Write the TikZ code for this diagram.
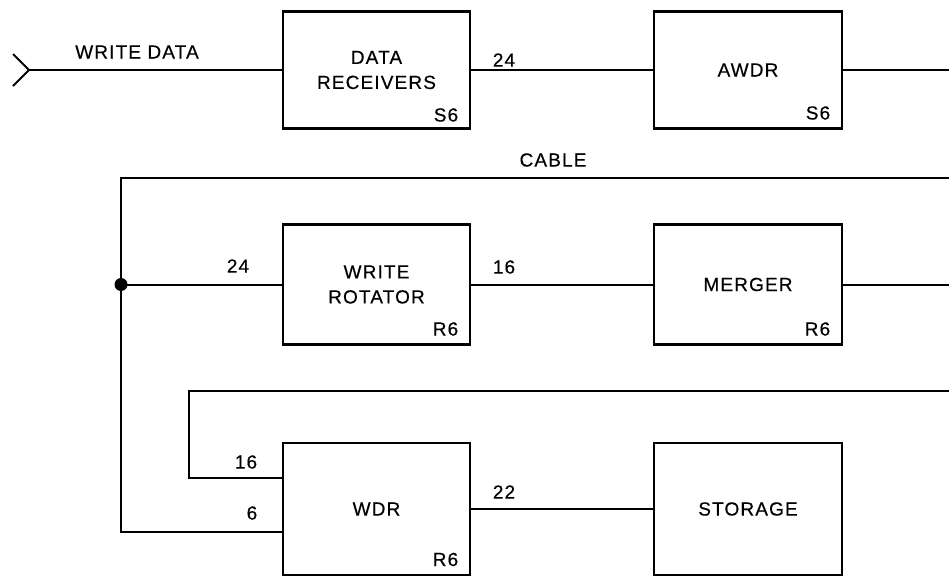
\documentclass[tikz,border=0pt]{standalone}
\usepackage{fontspec}
\setmainfont[LetterSpace=6,FakeBold=0.4]{Liberation Sans}
\begin{document}
\begin{tikzpicture}[x=1pt,y=-1pt,
  blk/.style={draw,line width=2.8pt,minimum width=187pt,inner sep=0pt,align=center,font=\fontsize{19}{25}\selectfont},
  wire/.style={line width=2pt},
  lbl/.style={font=\fontsize{19}{23}\selectfont,inner sep=0pt},
  tag/.style={font=\fontsize{19}{23}\selectfont,inner sep=0pt,anchor=south east}]
\useasboundingbox (0,0) rectangle (949,578);
% boxes
\node[blk,minimum height=117pt] (dr) at (376.5,70) {DATA\\RECEIVERS};
\node[blk,minimum height=117pt,minimum width=188pt] (awdr) at (748,70) {AWDR};
\node[blk,minimum height=120pt] (wr) at (376.5,284.5) {WRITE\\ROTATOR};
\node[blk,minimum height=120pt,minimum width=188pt] (mrg) at (748,284.5) {MERGER};
\node[blk,minimum height=132pt] (wdr) at (376.5,509) {WDR};
\node[blk,minimum height=132pt,minimum width=188pt] (sto) at (748,509) {STORAGE};
% tags
\node[tag] (t1) at ([shift={(-13,-8)}]dr.south east) {S6};
\node[tag] (t2) at ([shift={(-13,-10)}]awdr.south east) {S6};
\node[tag] (t3) at ([shift={(-13,-10)}]wr.south east) {R6};
\node[tag] (t4) at ([shift={(-13,-10)}]mrg.south east) {R6};
\node[tag] (t5) at ([shift={(-13,-10)}]wdr.south east) {R6};
% coordinates
\coordinate (tip) at (29,70);
\coordinate (armA) at (13,54);
\coordinate (armB) at (13,86);
\coordinate (e1) at (949,70);
\coordinate (cabL) at (121,178);
\coordinate (cabR) at (949,178);
\coordinate (jn) at (121,284.5);
\coordinate (e2) at (949,284.5);
\coordinate (fbR) at (949,391);
\coordinate (fbL) at (189,391);
\coordinate (in16) at (283,478);
\coordinate (in6) at (283,532);
% wires
\draw[wire] (armA) -- (tip) -- (armB);
\draw[wire] (tip) -- (dr.west |- tip);
\draw[wire] (dr.east) -- (awdr.west);
\draw[wire] (awdr.east) -- (e1);
\draw[wire] (cabR) -- (cabL) |- (in6);
\draw[wire] (jn) -- (wr.west);
\fill (jn) circle (6.5pt);
\draw[wire] (wr.east) -- (mrg.west);
\draw[wire] (mrg.east) -- (e2);
\draw[wire] (fbR) -- (fbL) |- (in16);
\draw[wire] (wdr.east) -- (sto.west);
% labels
\node[lbl] (l1) at (137,52) {WRITE DATA};
\node[lbl] (l2) at (504,60) {24};
\node[lbl] (l3) at (553,160) {CABLE};
\node[lbl] (l4) at (238,266) {24};
\node[lbl] (l5) at (504,267) {16};
\node[lbl] (l6) at (246,462) {16};
\node[lbl] (l7) at (252,513) {6};
\node[lbl] (l8) at (504,492) {22};
\end{tikzpicture}
\end{document}
